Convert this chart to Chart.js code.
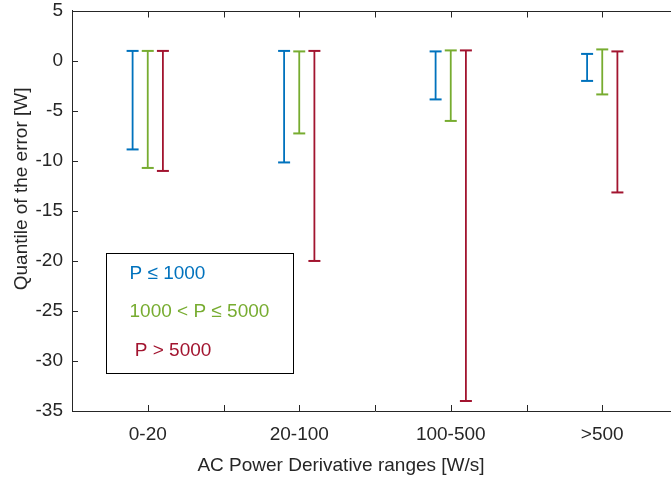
<!DOCTYPE html>
<html>
<head>
<meta charset="utf-8">
<script src="https://cdn.jsdelivr.net/npm/chart.js@4/dist/chart.umd.min.js"></script>
<style>
  html, body { margin: 0; padding: 0; background: #fff; overflow: hidden; }
  #wrap { width: 671px; height: 484px; overflow: hidden; }
</style>
</head>
<body>
<div id="wrap"><canvas id="chart" width="690" height="484"></canvas></div>
<script>
const categories = ['0-20', '20-100', '100-500', '>500'];
const categoryPos = [1, 3, 5, 7];
const seriesNames = ['P \u2264 1000', '1000 < P \u2264 5000', ' P > 5000'];
const seriesColors = ['#0072BD', '#77AC30', '#A2142F'];
const seriesOffset = [-0.2, 0, 0.2];

// upper / lower quantiles of the error, per derivative range
const lowPowerHigh = [1.0, 1.0, 0.95, 0.7];
const lowPowerLow = [-8.85, -10.15, -3.85, -2.0];
const midPowerHigh = [1.0, 0.95, 1.05, 1.15];
const midPowerLow = [-10.7, -7.25, -6.0, -3.35];
const highPowerHigh = [1.0, 1.0, 1.05, 0.95];
const highPowerLow = [-11.0, -20.0, -34.0, -13.15];

const yTicksMin = -35;
const yTicksMax = 5;
const yStep = 5;

const xTitle = 'AC Power Derivative ranges [W/s]';
const yTitle = 'Quantile of the error [W]';

const FONT = 'Liberation Sans, Arial, Helvetica, sans-serif';
const TEXT = '#262626';

function rangePoints(highs, lows, offset) {
  const pts = [];
  highs.forEach((hi, i) => {
    const x = categoryPos[i] + offset;
    pts.push({ x, y: hi });
    pts.push({ x, y: lows[i] });
    pts.push({ x, y: null }); // break between ranges
  });
  return pts;
}

const highs = [lowPowerHigh, midPowerHigh, highPowerHigh];
const lows = [lowPowerLow, midPowerLow, highPowerLow];

const datasets = seriesNames.map((name, s) => ({
  label: name,
  data: rangePoints(highs[s], lows[s], seriesOffset[s]),
  borderColor: seriesColors[s],
  backgroundColor: seriesColors[s],
  borderWidth: 1.8,
  spanGaps: false,
  pointStyle: 'line',
  pointRadius: 6,
  pointHoverRadius: 6,
  pointBorderWidth: 2,
  pointBorderColor: seriesColors[s],
  tension: 0,
}));

// inward tick marks, top box line, axis titles and the boxed legend
const frameAndLegend = {
  id: 'frameAndLegend',
  afterDraw(chart) {
    const { ctx, chartArea } = chart;
    const xs = chart.scales.x;
    const ys = chart.scales.y;
    const tl = 6;
    const top = Math.round(chartArea.top) + 0.5;
    const bottom = Math.round(chartArea.bottom);
    ctx.save();
    ctx.strokeStyle = TEXT;
    ctx.lineWidth = 1;
    ctx.beginPath();
    ctx.moveTo(chartArea.left, top);
    ctx.lineTo(chartArea.right, top);
    xs.ticks.forEach(t => {
      if (t.value <= xs.min || t.value >= xs.max) return;
      const px = Math.round(xs.getPixelForValue(t.value)) + 0.5;
      ctx.moveTo(px, bottom);
      ctx.lineTo(px, bottom - tl);
      ctx.moveTo(px, top);
      ctx.lineTo(px, top + tl);
    });
    ys.ticks.forEach(t => {
      if (t.value <= ys.min || t.value >= ys.max) return;
      const py = Math.round(ys.getPixelForValue(t.value)) + 0.5;
      ctx.moveTo(chartArea.left, py);
      ctx.lineTo(chartArea.left + tl, py);
    });
    ctx.stroke();

    // axis titles
    ctx.font = '19px ' + FONT;
    ctx.fillStyle = TEXT;
    ctx.textAlign = 'center';
    ctx.textBaseline = 'middle';
    ctx.fillText(xTitle, chartArea.left + 269, chartArea.bottom + 55);
    ctx.save();
    ctx.translate(22, chartArea.top + 178);
    ctx.rotate(-Math.PI / 2);
    ctx.fillText(yTitle, 0, 0);
    ctx.restore();

    // legend box
    const bx = Math.round(chartArea.left + 34) + 0.5;
    const by = Math.round(chartArea.top + 242) + 0.5;
    const bw = 187;
    const bh = 120;
    ctx.fillStyle = '#fff';
    ctx.fillRect(bx, by, bw, bh);
    ctx.strokeStyle = '#000';
    ctx.strokeRect(bx, by, bw, bh);
    ctx.textBaseline = 'middle';
    ctx.textAlign = 'left';
    chart.data.datasets.forEach((ds, i) => {
      ctx.fillStyle = ds.borderColor;
      ctx.fillText(ds.label, bx + 23, by + 20 + i * 38.5);
    });
    ctx.restore();
  },
};

new Chart(document.getElementById('chart'), {
  type: 'line',
  data: { datasets },
  options: {
    responsive: false,
    animation: false,
    events: [],
    layout: { padding: { left: 0, right: 9.5, top: 0, bottom: 0 } },
    plugins: {
      legend: { display: false },
      tooltip: { enabled: false },
    },
    scales: {
      x: {
        type: 'linear',
        min: 0,
        max: 8,
        afterFit(scale) { scale.height = 73; },
        afterBuildTicks(scale) {
          const ticks = [];
          for (let v = 0; v <= 8; v += 1) ticks.push({ value: v });
          scale.ticks = ticks;
        },
        ticks: {
          autoSkip: false,
          maxRotation: 0,
          padding: 12,
          color: TEXT,
          font: { family: FONT, size: 19 },
          callback: v => {
            const i = categoryPos.indexOf(v);
            return i >= 0 ? categories[i] : '';
          },
        },
        grid: { drawOnChartArea: false, drawTicks: false },
        border: { display: true, color: TEXT, width: 1 },
      },
      y: {
        min: yTicksMin,
        max: yTicksMax,
        afterFit(scale) { scale.width = 72; },
        ticks: {
          stepSize: yStep,
          padding: 9,
          color: TEXT,
          font: { family: FONT, size: 19, lineHeight: 0.2 },
        },
        grid: { drawOnChartArea: false, drawTicks: false },
        border: { display: true, color: TEXT, width: 1 },
      },
    },
  },
  plugins: [frameAndLegend],
});
</script>
</body>
</html>
